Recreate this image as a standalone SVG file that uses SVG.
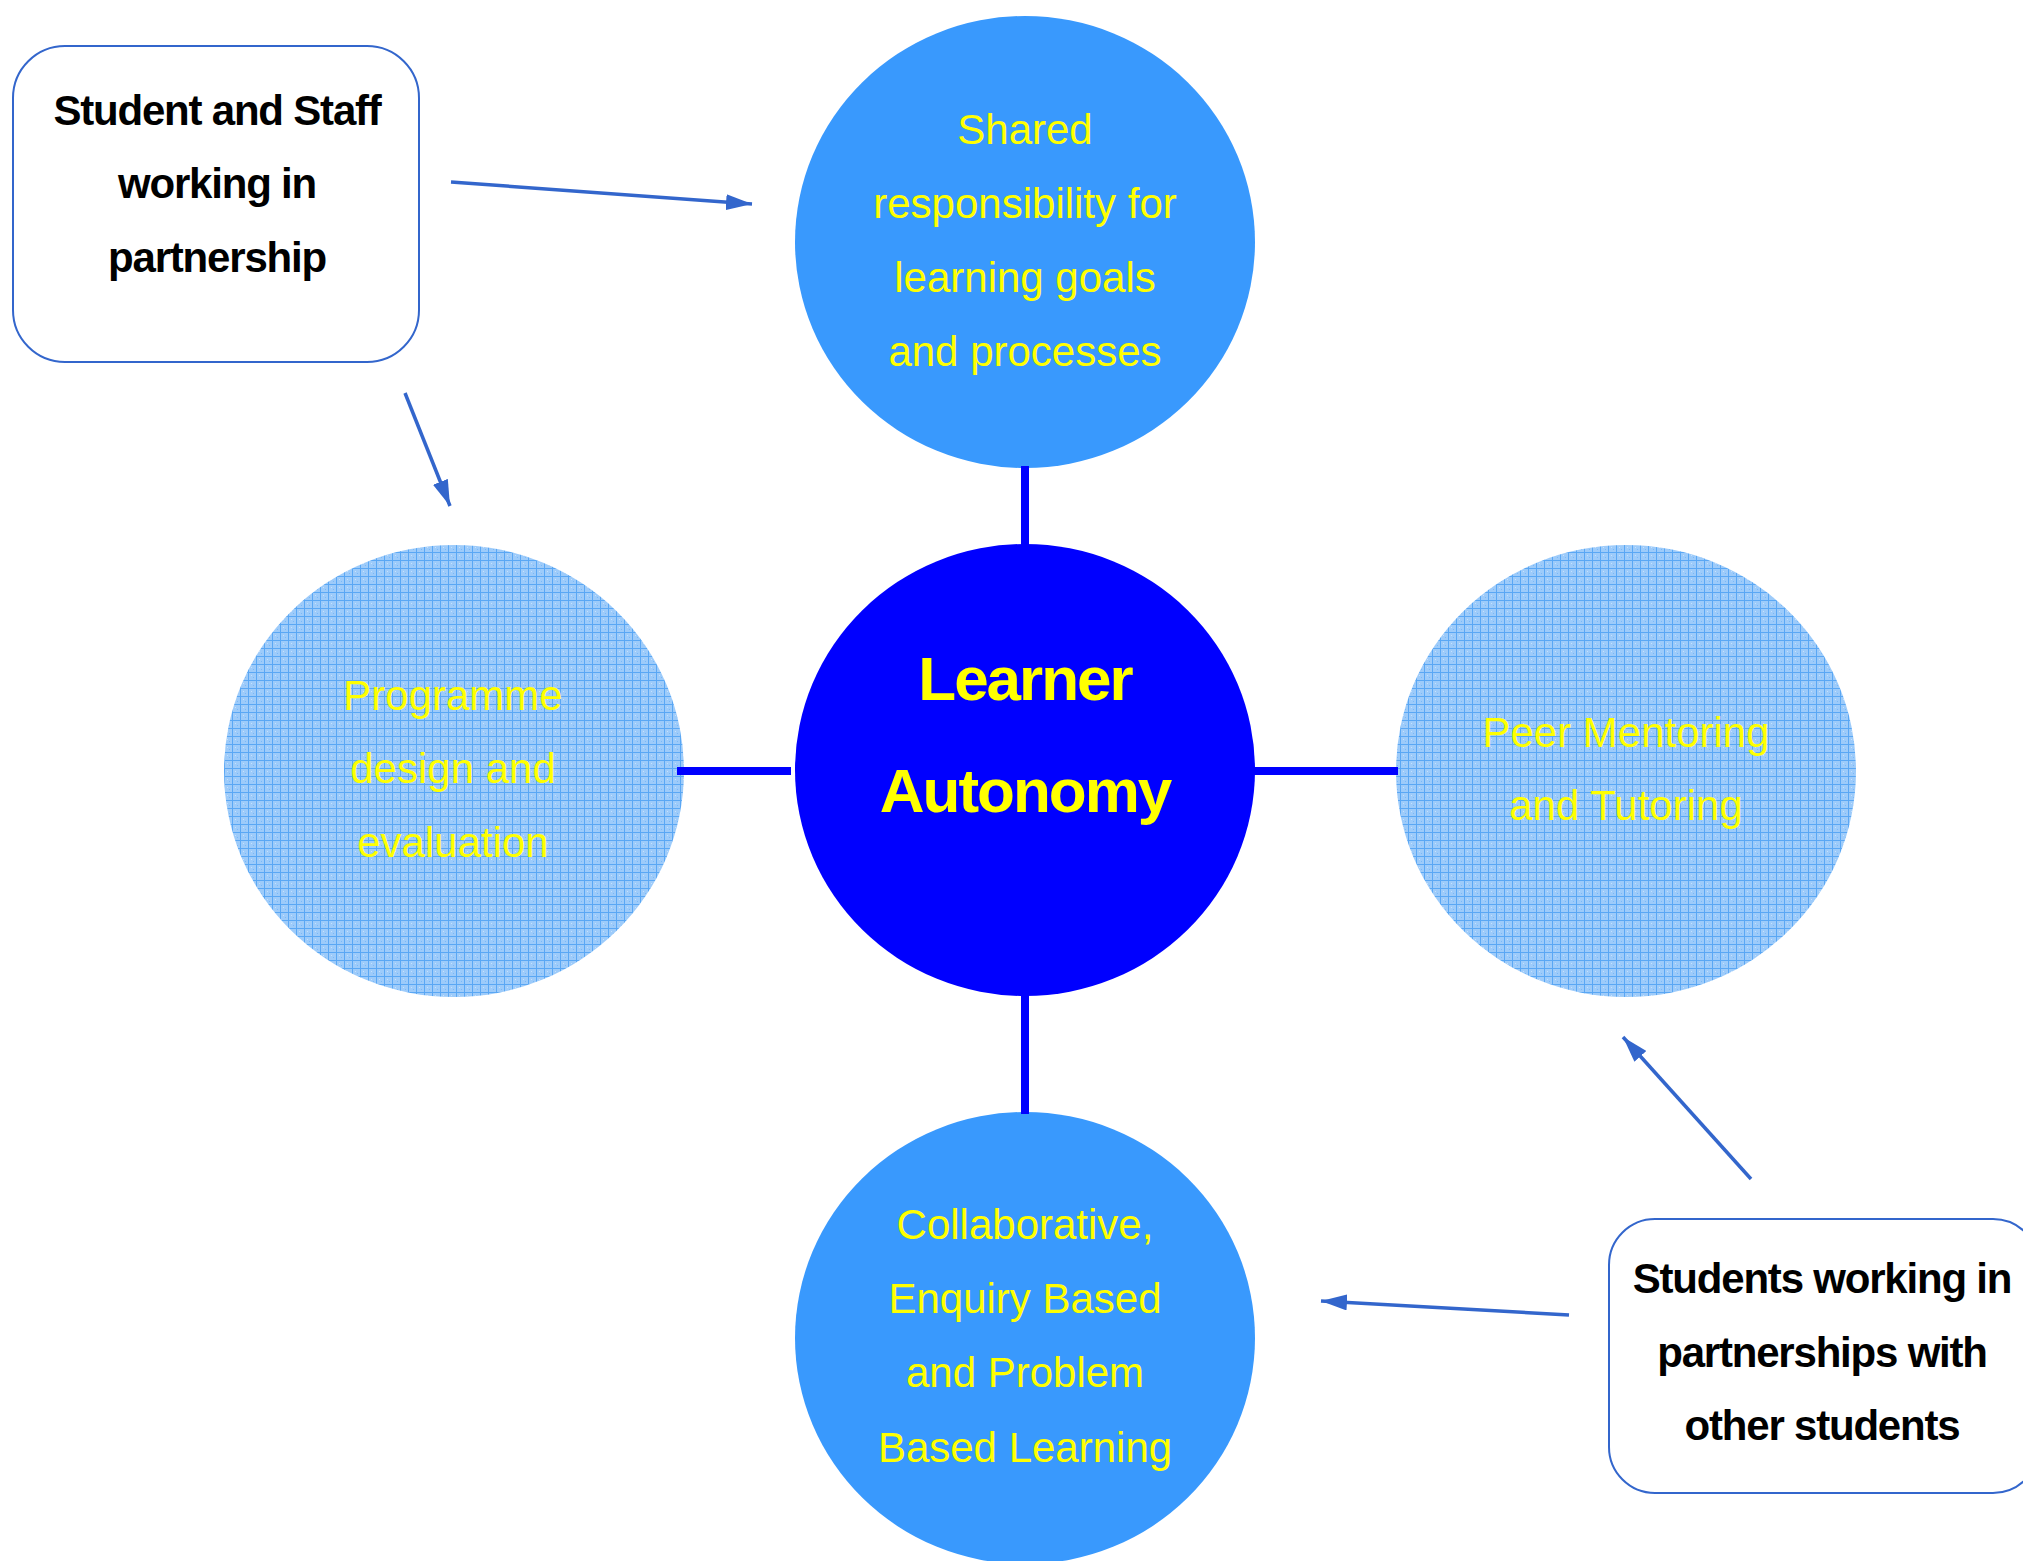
<svg xmlns="http://www.w3.org/2000/svg" width="2023" height="1561" viewBox="0 0 2023 1561">
<style>
.solid{fill:#3999fd}
.hatch{fill:url(#grid)}
.core{fill:#0000ff}
.ytxt{font-family:"Liberation Sans",Arial,sans-serif;font-size:42px;fill:#ffff00;text-anchor:middle}
.ctxt{font-family:"Liberation Sans",Arial,sans-serif;font-size:62px;font-weight:bold;fill:#ffff00;text-anchor:middle;letter-spacing:-2px}
.btxt{font-family:"Liberation Sans",Arial,sans-serif;font-size:42px;font-weight:bold;fill:#000000;text-anchor:middle;letter-spacing:-1.2px}
.box{fill:#ffffff;stroke:#3366cc;stroke-width:2}
.spoke{stroke:#0000ff;stroke-width:8;fill:none}
.arrow{stroke:#3366cc;stroke-width:3.5;fill:none;marker-end:url(#ah)}
</style>
<defs>
<pattern id="grid" patternUnits="userSpaceOnUse" width="8" height="8">
<rect width="8" height="8" fill="#9dcbfa"/>
<path d="M0,0.5 H8 M0.5,0 V8" stroke="#5aa7f4" stroke-width="1"/>
<rect x="3" y="3" width="1" height="1" fill="#c6e1fd"/>
<rect x="5" y="5" width="1" height="1" fill="#7ab8f7"/>
</pattern>
<marker id="ah" markerUnits="userSpaceOnUse" markerWidth="26" markerHeight="16" viewBox="0 0 26 16" refX="26" refY="8" orient="auto">
<path d="M0,0 L26,8 L0,16 z" fill="#3366cc"/>
</marker>
</defs>
<rect width="2023" height="1561" fill="#ffffff"/>

<g id="node-shared">
<ellipse class="solid" cx="1025" cy="242" rx="230" ry="226"/>
<text class="ytxt" x="1025" y="144">Shared</text>
<text class="ytxt" x="1025" y="218">responsibility for</text>
<text class="ytxt" x="1025" y="292">learning goals</text>
<text class="ytxt" x="1025" y="366">and processes</text>
</g>

<g id="node-programme">
<ellipse class="hatch" cx="454" cy="771" rx="230" ry="226"/>
<text class="ytxt" x="453" y="710">Programme</text>
<text class="ytxt" x="453" y="783">design and</text>
<text class="ytxt" x="453" y="857">evaluation</text>
</g>

<g id="node-peer">
<ellipse class="hatch" cx="1626" cy="771" rx="230" ry="226"/>
<text class="ytxt" x="1626" y="747">Peer Mentoring</text>
<text class="ytxt" x="1626" y="820">and Tutoring</text>
</g>

<g id="node-collab">
<ellipse class="solid" cx="1025" cy="1338" rx="230" ry="226"/>
<text class="ytxt" x="1025" y="1239">Collaborative,</text>
<text class="ytxt" x="1025" y="1313">Enquiry Based</text>
<text class="ytxt" x="1025" y="1387">and Problem</text>
<text class="ytxt" x="1025" y="1462">Based Learning</text>
</g>

<g id="node-learner">
<ellipse class="core" cx="1025" cy="770" rx="230" ry="226"/>
<text class="ctxt" x="1025" y="700">Learner</text>
<text class="ctxt" x="1025" y="812">Autonomy</text>
</g>

<g id="node-staff">
<rect class="box" x="13" y="46" width="406" height="316" rx="52" ry="52"/>
<text class="btxt" x="217" y="125">Student and Staff</text>
<text class="btxt" x="217" y="198">working in</text>
<text class="btxt" x="217" y="272">partnership</text>
</g>

<g id="node-students">
<rect class="box" x="1609" y="1219" width="430" height="274" rx="46" ry="46"/>
<text class="btxt" x="1822" y="1293">Students working in</text>
<text class="btxt" x="1822" y="1367">partnerships with</text>
<text class="btxt" x="1822" y="1440">other students</text>
</g>

<g id="connectors">
<line class="spoke" x1="1025" y1="466" x2="1025" y2="546"/>
<line class="spoke" x1="677" y1="771" x2="791" y2="771"/>
<line class="spoke" x1="1253" y1="771" x2="1398" y2="771"/>
<line class="spoke" x1="1025" y1="994" x2="1025" y2="1114"/>
<line class="arrow" x1="451" y1="182" x2="752" y2="204"/>
<line class="arrow" x1="405" y1="393" x2="450" y2="506"/>
<line class="arrow" x1="1751" y1="1179" x2="1623" y2="1037"/>
<line class="arrow" x1="1569" y1="1315" x2="1321" y2="1301"/>
</g>
</svg>
